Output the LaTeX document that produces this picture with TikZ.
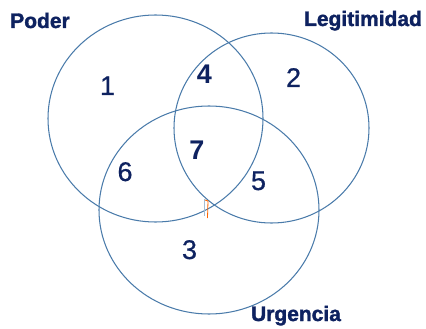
\documentclass[tikz,border=0pt]{standalone}
\usepackage{fontspec}
\setmainfont{Liberation Sans}
\newfontfamily\heavyfont[FakeBold=1.6]{Liberation Sans Bold}
\newfontfamily\digitfont[FakeBold=0.6]{Liberation Sans}
\usetikzlibrary{shapes.geometric}
\definecolor{ring}{HTML}{4A7BAA}
\definecolor{navy}{HTML}{0E2260}
\tikzset{
  ringnode/.style={draw=ring, line width=1.05pt, ellipse, inner sep=0pt},
  setlabel/.style={text=navy, font=\heavyfont\fontsize{21}{24}\selectfont, inner sep=0pt, anchor=base},
  region/.style={text=navy, font=\digitfont\fontsize{27}{30}\selectfont, inner sep=0pt, anchor=base},
  regionb/.style={region, font=\bfseries\fontsize{27}{30}\selectfont}
}
\begin{document}
\begin{tikzpicture}[x=1pt,y=-1pt]
\useasboundingbox (0,0) rectangle (426,329);
\node[ringnode, minimum width=215pt, minimum height=207pt] (cpoder) at (155.5,118.5) {};
\node[ringnode, minimum width=195pt, minimum height=190pt] (clegit) at (271.5,128) {};
\node[ringnode, minimum width=220pt, minimum height=208pt] (curg) at (209,210) {};
\node[setlabel] (lpoder) at (40,28) {Poder};
\node[setlabel] (llegit) at (363,26) {Legitimidad};
\node[setlabel] (lurg) at (296,321) {Urgencia};
\node[region] (r1) at (107.5,95) {1};
\node[regionb] (r4) at (204.5,84) {4};
\node[region] (r2) at (293.5,87) {2};
\node[regionb] (r7) at (197,159) {7};
\node[region] (r6) at (125,181) {6};
\node[region] (r5) at (258.5,190) {5};
\node[region] (r3) at (189.5,259) {3};
\draw[orange!80!red, line width=0.8pt] (205,200) -- (208,201) -- (207.5,218);
\draw[ring!50, line width=0.8pt] (204,199) -- (204,216);
\end{tikzpicture}
\end{document}
